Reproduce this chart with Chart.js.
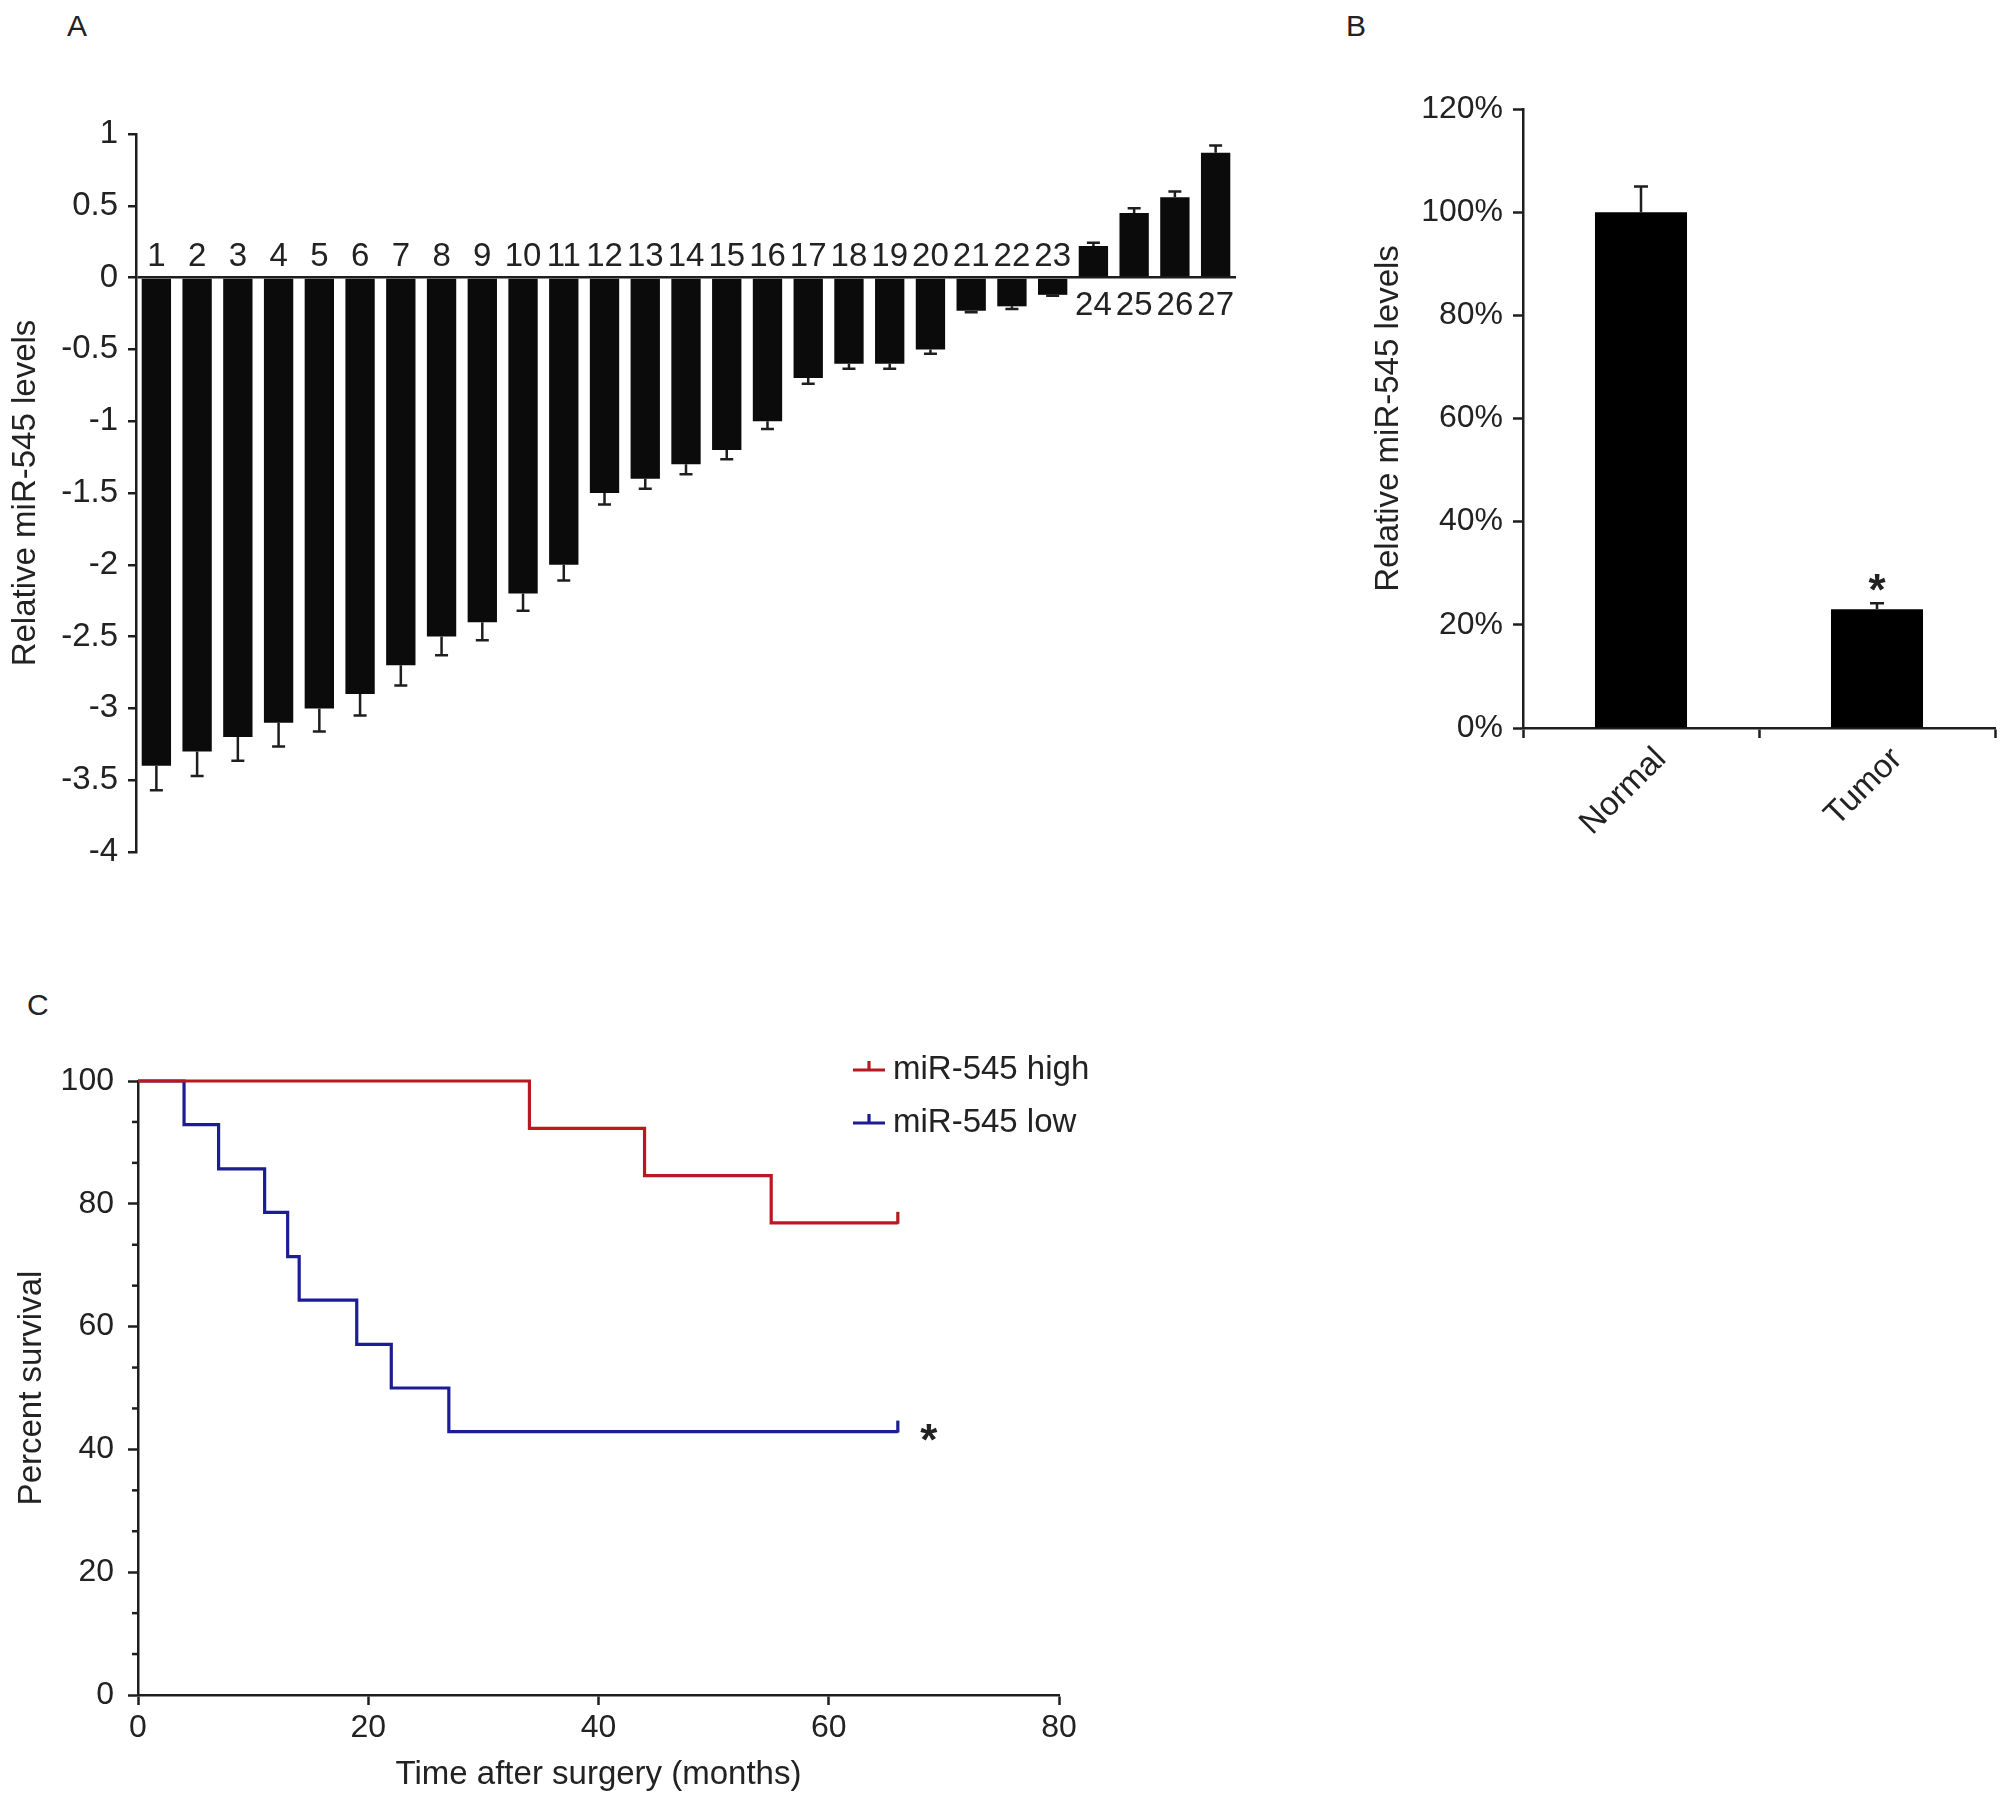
<!DOCTYPE html>
<html>
<head>
<meta charset="utf-8">
<script src="https://cdn.jsdelivr.net/npm/chart.js@4.4.1/dist/chart.umd.min.js"></script>
<style>
body{margin:0;background:#fff;}
#page{position:relative;width:2008px;height:1805px;overflow:hidden;font-family:"Liberation Sans",Arial,sans-serif;color:#222;}
.box{position:absolute;}
.letter{position:absolute;font-size:30px;line-height:1;}
</style>
</head>
<body>
<div id="page">
  <div class="letter" style="left:67px;top:11px">A</div>
  <div class="letter" style="left:1346px;top:11px">B</div>
  <div class="letter" style="left:27px;top:990px">C</div>
  <div class="box" style="left:0;top:0;width:1300px;height:920px"><canvas id="chartA"></canvas></div>
  <div class="box" style="left:1340px;top:0;width:668px;height:920px"><canvas id="chartB"></canvas></div>
  <div class="box" style="left:0;top:960px;width:1300px;height:845px"><canvas id="chartC"></canvas></div>
</div>
<script>
// panel A - 27 tissue samples
const sampleIds = ['1','2','3','4','5','6','7','8','9','10','11','12','13','14','15','16','17','18','19','20','21','22','23','24','25','26','27'];
const sampleLevels = [-3.4,-3.3,-3.2,-3.1,-3.0,-2.9,-2.7,-2.5,-2.4,-2.2,-2.0,-1.5,-1.4,-1.3,-1.2,-1.0,-0.7,-0.6,-0.6,-0.5,-0.23,-0.2,-0.12,0.22,0.45,0.56,0.87];
const sampleErrors = [0.17,0.17,0.165,0.165,0.16,0.15,0.14,0.13,0.125,0.12,0.11,0.08,0.07,0.07,0.065,0.055,0.04,0.035,0.035,0.03,0.012,0.018,0.007,0.023,0.033,0.04,0.05];

// panel B - normal vs tumor
const groupNames = ['Normal','Tumor'];
const groupLevels = [100, 23];
const groupErrors = [5, 1.2];
const groupStars = ['', '*'];

// panel C - survival curves
const highMonths = [0, 34, 44, 55, 66];
const highSurvival = [100, 92.3, 84.6, 76.9, 76.9];
const lowMonths = [0, 4, 7, 11, 13, 14, 19, 22, 27, 66];
const lowSurvival = [100, 92.9, 85.7, 78.6, 71.4, 64.3, 57.1, 50, 42.9, 42.9];
const curveStars = ['', '*'];
const survivalMinorTicks = [6.67,13.33,26.67,33.33,46.67,53.33,66.67,73.33,86.67,93.33];

const FONT = '"Liberation Sans", Arial, sans-serif';
const AXIS = '#1e1e1e';
const RED = 'rgb(186,24,32)';
const BLUE = 'rgb(28,28,148)';

Chart.defaults.font.family = FONT;
Chart.defaults.color = '#222';
Chart.defaults.animation = false;
Chart.defaults.plugins.legend.display = false;
Chart.defaults.plugins.tooltip.enabled = false;

const errorBars = {
  id: 'errorBars',
  afterDatasetsDraw(chart, args, opts) {
    const ctx = chart.ctx, y = chart.scales.y;
    const vals = chart.data.datasets[0].data;
    ctx.save();
    ctx.strokeStyle = AXIS;
    ctx.lineWidth = 2.5;
    chart.getDatasetMeta(0).data.forEach((bar, i) => {
      const v = vals[i];
      const end = v < 0 ? v - opts.errors[i] : v + opts.errors[i];
      const y0 = y.getPixelForValue(v), y1 = y.getPixelForValue(end);
      ctx.beginPath();
      ctx.moveTo(bar.x, y0); ctx.lineTo(bar.x, y1);
      ctx.moveTo(bar.x - opts.cap / 2, y1); ctx.lineTo(bar.x + opts.cap / 2, y1);
      ctx.stroke();
    });
    ctx.restore();
  }
};

// numbers sit on the other side of the zero line
const sampleLabels = {
  id: 'sampleLabels',
  afterDatasetsDraw(chart) {
    const ctx = chart.ctx, x = chart.scales.x, y = chart.scales.y;
    const zero = y.getPixelForValue(0);
    ctx.save();
    ctx.font = '33px ' + FONT;
    ctx.fillStyle = '#222';
    ctx.textAlign = 'center';
    ctx.textBaseline = 'alphabetic';
    chart.data.labels.forEach((lab, i) => {
      const v = chart.data.datasets[0].data[i];
      ctx.fillText(lab, x.getPixelForValue(i), v < 0 ? zero - 12 : zero + 37);
    });
    ctx.restore();
  }
};

const barStars = {
  id: 'barStars',
  afterDatasetsDraw(chart, args, opts) {
    const ctx = chart.ctx, y = chart.scales.y;
    ctx.save();
    ctx.font = 'bold 44px ' + FONT;
    ctx.fillStyle = '#222';
    ctx.textAlign = 'center';
    chart.getDatasetMeta(0).data.forEach((bar, i) => {
      if (!opts.marks[i]) return;
      const top = y.getPixelForValue(groupLevels[i] + groupErrors[i]);
      ctx.fillText(opts.marks[i], bar.x, top + 2);
    });
    ctx.restore();
  }
};

const kmExtras = {
  id: 'kmExtras',
  afterDatasetsDraw(chart, args, opts) {
    const ctx = chart.ctx, area = chart.chartArea, y = chart.scales.y;
    ctx.save();
    // censor ticks + stars at the curve ends
    chart.data.datasets.forEach((ds, i) => {
      const pts = chart.getDatasetMeta(i).data;
      const p = pts[pts.length - 1];
      ctx.strokeStyle = ds.borderColor;
      ctx.lineWidth = 3.2;
      ctx.beginPath(); ctx.moveTo(p.x, p.y + 1); ctx.lineTo(p.x, p.y - 11); ctx.stroke();
      if (opts.stars[i]) {
        ctx.font = 'bold 44px ' + FONT;
        ctx.fillStyle = '#222';
        ctx.textAlign = 'center';
        ctx.textBaseline = 'alphabetic';
        ctx.fillText(opts.stars[i], p.x + 31, p.y + 23);
      }
    });
    // minor ticks on the y axis
    ctx.strokeStyle = AXIS;
    ctx.lineWidth = 2.5;
    opts.minor.forEach(v => {
      const py = y.getPixelForValue(v);
      ctx.beginPath(); ctx.moveTo(y.right - 6, py); ctx.lineTo(y.right, py); ctx.stroke();
    });
    // legend
    ctx.font = '33px ' + FONT;
    ctx.textAlign = 'left';
    ctx.textBaseline = 'middle';
    chart.data.datasets.forEach((ds, i) => {
      const lx = area.left + 715, ly = area.top - 11 + i * 53;
      ctx.strokeStyle = ds.borderColor;
      ctx.lineWidth = 3.2;
      ctx.beginPath();
      ctx.moveTo(lx, ly); ctx.lineTo(lx + 32, ly);
      ctx.moveTo(lx + 16, ly); ctx.lineTo(lx + 16, ly - 9);
      ctx.stroke();
      ctx.fillStyle = '#222';
      ctx.fillText(ds.label, lx + 40, ly);
    });
    ctx.restore();
  }
};

const axisGrid = {drawOnChartArea: false, tickLength: 10, tickColor: AXIS, tickWidth: 2.5};
const axisBorder = {color: AXIS, width: 2.5};

new Chart(document.getElementById('chartA'), {
  type: 'bar',
  data: {
    labels: sampleIds,
    datasets: [{data: sampleLevels, backgroundColor: '#0b0b0b', barPercentage: 0.72, categoryPercentage: 1}]
  },
  options: {
    responsive: true, maintainAspectRatio: false, devicePixelRatio: 1,
    layout: {padding: {top: 134, right: 64, bottom: 68, left: 0}},
    scales: {
      x: {display: false},
      y: {
        min: -4, max: 1,
        ticks: {stepSize: 0.5, font: {size: 33}, padding: 10, callback: v => String(v)},
        grid: {
          drawOnChartArea: true, tickLength: 8, tickColor: AXIS, tickWidth: 2.5, lineWidth: 2.5,
          color: c => (c.tick && c.tick.value === 0) ? AXIS : 'rgba(0,0,0,0)'
        },
        border: axisBorder,
        title: {display: true, text: 'Relative miR-545 levels', font: {size: 33}, padding: {top: 6, bottom: 0}},
        afterFit: s => { s.width = 136; }
      }
    },
    plugins: {errorBars: {errors: sampleErrors, cap: 13}}
  },
  plugins: [errorBars, sampleLabels]
});

new Chart(document.getElementById('chartB'), {
  type: 'bar',
  data: {
    labels: groupNames,
    datasets: [{data: groupLevels, backgroundColor: '#000', barPercentage: 0.39, categoryPercentage: 1}]
  },
  options: {
    responsive: true, maintainAspectRatio: false, devicePixelRatio: 1,
    layout: {padding: {top: 109, right: 13, bottom: 0, left: 0}},
    scales: {
      x: {
        ticks: {font: {size: 33}, minRotation: 45, maxRotation: 45, padding: 2, labelOffset: 20, autoSkip: false},
        grid: Object.assign({offset: true}, axisGrid),
        border: axisBorder,
        afterFit: s => { s.height = 192; }
      },
      y: {
        min: 0, max: 120,
        ticks: {stepSize: 20, font: {size: 32}, padding: 10, callback: v => v + '%'},
        grid: axisGrid,
        border: axisBorder,
        title: {display: true, text: 'Relative miR-545 levels', font: {size: 33}, padding: {top: 29, bottom: 0}},
        afterFit: s => { s.width = 183; }
      }
    },
    plugins: {errorBars: {errors: groupErrors, cap: 14}, barStars: {marks: groupStars}}
  },
  plugins: [errorBars, barStars]
});

new Chart(document.getElementById('chartC'), {
  type: 'line',
  data: {
    datasets: [
      {label: 'miR-545 high', data: highMonths.map((m, i) => ({x: m, y: highSurvival[i]})),
       borderColor: RED, borderWidth: 3.2, stepped: true, pointRadius: 0, fill: false, clip: false},
      {label: 'miR-545 low', data: lowMonths.map((m, i) => ({x: m, y: lowSurvival[i]})),
       borderColor: BLUE, borderWidth: 3.2, stepped: true, pointRadius: 0, fill: false, clip: false}
    ]
  },
  options: {
    responsive: true, maintainAspectRatio: false, devicePixelRatio: 1,
    layout: {padding: {top: 121, right: 241, bottom: 0, left: 0}},
    scales: {
      x: {
        type: 'linear', min: 0, max: 80,
        ticks: {stepSize: 20, font: {size: 32}, padding: 4},
        grid: axisGrid,
        border: axisBorder,
        title: {display: true, text: 'Time after surgery (months)', font: {size: 33}, padding: {top: 0, bottom: 10}},
        afterFit: s => { s.height = 110; }
      },
      y: {
        min: 0, max: 100,
        ticks: {stepSize: 20, font: {size: 32}, padding: 14},
        grid: axisGrid,
        border: axisBorder,
        title: {display: true, text: 'Percent survival', font: {size: 33}, padding: {top: 12, bottom: 0}},
        afterFit: s => { s.width = 138; }
      }
    },
    plugins: {kmExtras: {stars: curveStars, minor: survivalMinorTicks}}
  },
  plugins: [kmExtras]
});
</script>
</body>
</html>
